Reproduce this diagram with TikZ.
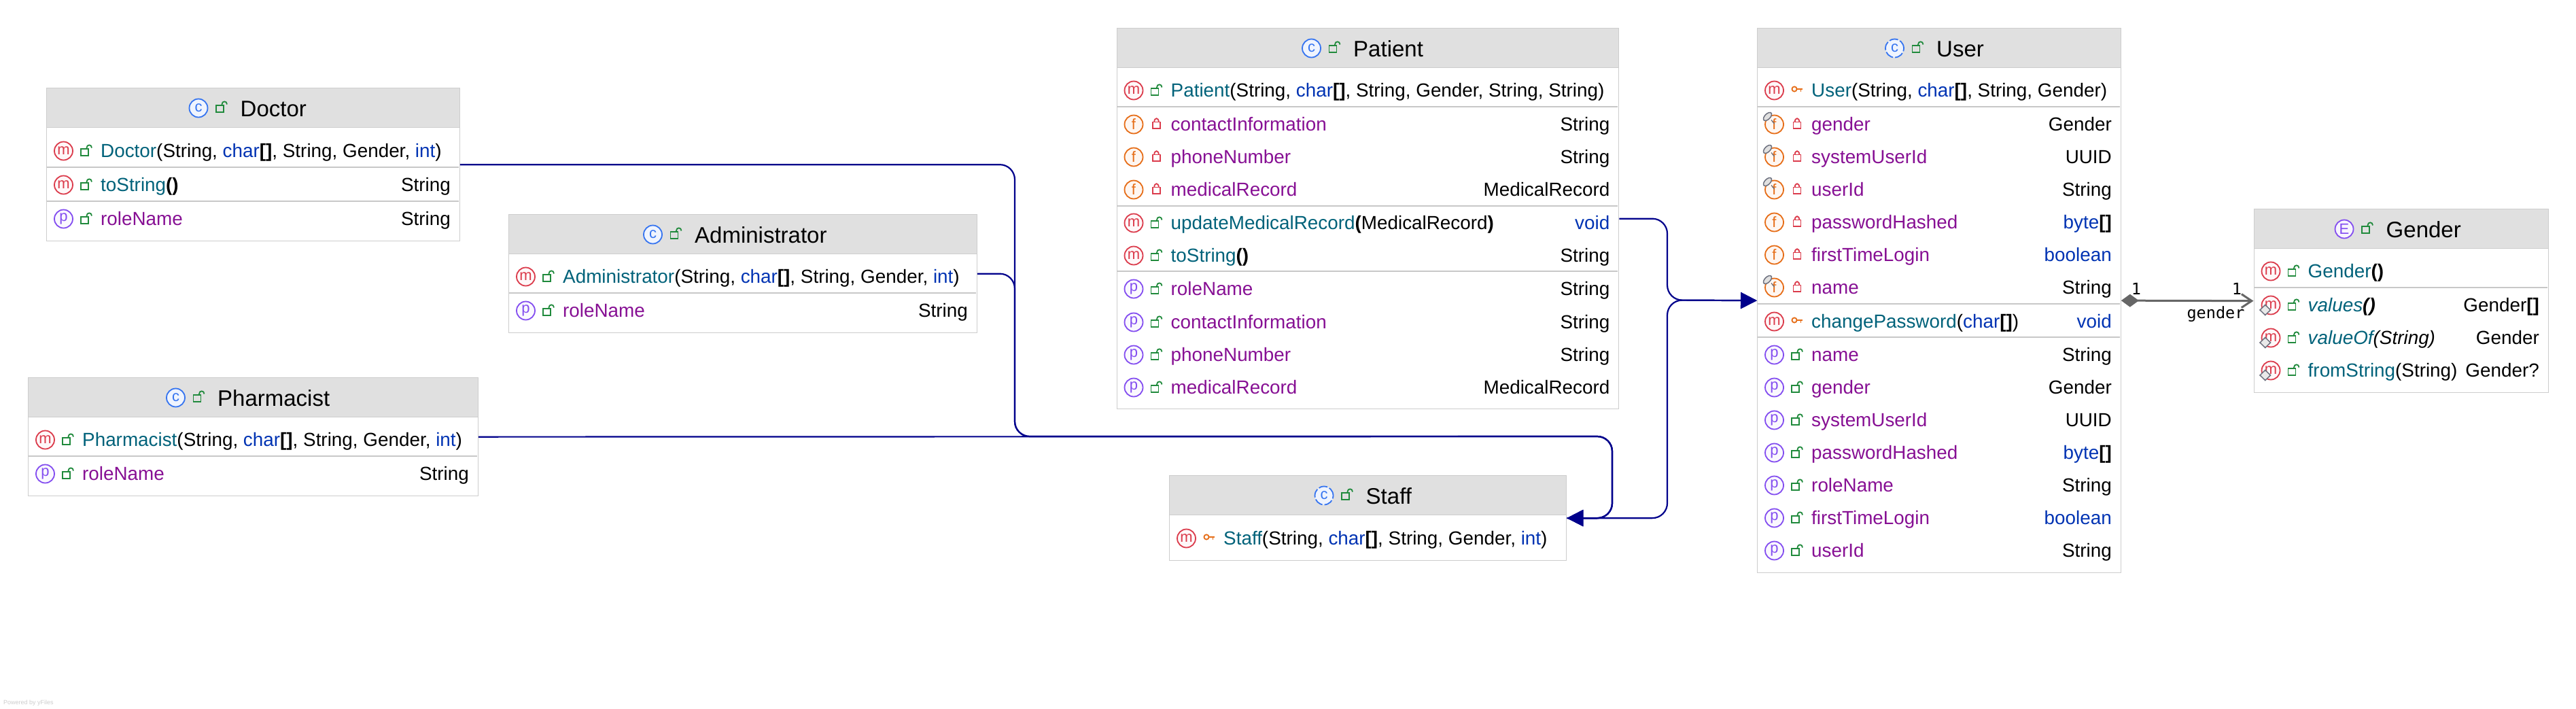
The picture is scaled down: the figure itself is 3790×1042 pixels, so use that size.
\documentclass[tikz,border=0pt]{standalone}
\usepackage{fontspec}
\usepackage{xcolor}
\usepackage{tikz}
\usetikzlibrary{arrows.meta}
\setmainfont{Liberation Sans}
\newfontfamily\tagfont{DejaVu Sans Mono}

\definecolor{headgray}{HTML}{E0E0E0}
\definecolor{edgegray}{HTML}{CDCDCD}
\definecolor{sepgray}{HTML}{C8C8C8}
\definecolor{navyline}{HTML}{00008B}
\definecolor{hasgray}{HTML}{666666}
\definecolor{methodteal}{HTML}{00627A}
\definecolor{fieldpurple}{HTML}{871094}
\definecolor{keywordblue}{HTML}{0033B3}
\definecolor{iconred}{HTML}{DB3B4B}
\definecolor{iconorange}{HTML}{E66D17}
\definecolor{iconpurple}{HTML}{834DF0}
\definecolor{iconblue}{HTML}{3574F0}
\definecolor{lockgreen}{HTML}{208A3C}
\definecolor{markgray}{HTML}{6C707E}

\tikzset{
  classbody/.style={draw=edgegray,fill=white,line width=1.3pt,inner sep=0pt,anchor=north west},
  classhead/.style={draw=edgegray,fill=headgray,line width=1.3pt,inner sep=0pt,anchor=north west},
  rowsep/.style={draw=sepgray,line width=2.6pt},
  icon/.style={circle,draw,line width=1.8pt,minimum size=27pt,inner sep=0pt,font=\fontsize{22}{22}\selectfont},
  iconm/.style={icon,draw=iconred,fill=iconred!4,text=iconred,node contents={m}},
  iconf/.style={icon,draw=iconorange,fill=iconorange!6,text=iconorange,node contents={f}},
  iconp/.style={icon,draw=iconpurple,fill=iconpurple!4,text=iconpurple,node contents={p}},
  iconc/.style={icon,draw=iconblue,fill=iconblue!8,text=iconblue,node contents={c}},
  icona/.style={iconc,dash pattern=on 13pt off 3pt},
  icone/.style={icon,draw=iconpurple,fill=iconpurple!6,text=iconpurple,node contents={E}},
  rowtext/.style={font=\fontsize{27.85}{30}\selectfont,inner sep=0pt,anchor=base west},
  typetext/.style={rowtext,anchor=base east},
  titletext/.style={font=\fontsize{33}{36}\selectfont,inner sep=0pt,anchor=base west},
  tagtext/.style={font=\tagfont\fontsize{23.5}{25}\selectfont,inner sep=0pt},
  extendsline/.style={draw=navyline,line width=2.2pt,rounded corners=22pt,-{Triangle[length=24pt,width=24pt]}},
  hasline/.style={draw=hasgray,line width=3pt,{Diamond[length=26pt,width=19pt]}-{Straight Barb[length=15pt,width=20pt]}},
}

\newcommand{\mth}[1]{\textcolor{methodteal}{#1}}
\newcommand{\fld}[1]{\textcolor{fieldpurple}{#1}}
\newcommand{\kw}[1]{\textcolor{keywordblue}{#1}}
\newcommand{\brk}{\textbf{[]}}

% little marks beside a member
\newcommand{\openlock}[2]{
  \begin{scope}[shift={(#1,#2)}]
    \draw[lockgreen,line width=1.8pt] (-8,-2.7) rectangle (3,7.3);
    \draw[lockgreen,line width=1.8pt] (0.5,-2.7) -- (0.5,-4.5) .. controls (0.5,-10) and (8,-10) .. (8,-4.5);
  \end{scope}
}
\newcommand{\closedlock}[2]{
  \begin{scope}[shift={(#1,#2)}]
    \draw[iconred,line width=1.8pt] (-5.5,-3.5) rectangle (5.5,6.3);
    \draw[iconred,line width=1.8pt] (-3.3,-3.5) .. controls (-3.3,-10.5) and (3.3,-10.5) .. (3.3,-3.5);
  \end{scope}
}
\newcommand{\keymark}[2]{
  \begin{scope}[shift={(#1,#2)}]
    \draw[iconorange,line width=1.8pt] (-4,-2) circle (3.6);
    \draw[iconorange,line width=1.8pt] (-0.4,-2) -- (8,-2) (5.5,-2) -- (5.5,2);
  \end{scope}
}
\newcommand{\viewmark}[2]{
  \draw[markgray,line width=1.3pt] (#1-4.5,#2-6.5) -- (#1,#2-1);
  \draw[markgray,fill=headgray,line width=1.5pt,rotate around={45:(#1-10,#2-11.5)}] (#1-10,#2-11.5) ellipse (7.5 and 4);
}
\newcommand{\staticmark}[2]{
  \draw[markgray,fill=headgray!70,line width=1.5pt] (#1-16,#2+7) -- (#1-8.3,#2-0.5) -- (#1-0.5,#2+7) -- (#1-8.3,#2+14.5) -- cycle;
}

% id, left, top, width, height, icon style, icon x, title
\newcommand{\classbox}[8]{
  \node[classbody,minimum width=#4pt,minimum height=#5pt] (#1) at (#2,#3) {};
  \node[classhead,minimum width=#4pt,minimum height=58pt] (#1head) at (#2,#3) {};
  \node (#1icon) at (#7,#3+30) [#6];
  \openlock{#7+34}{#3+29}
  \node[titletext] (#1title) at (#7+61.5,#3+42) {#8};
}
% id, left, right, y, icon style, lock macro, label, type
\newcommand{\memberrow}[8]{
  \node (#1icon) at (#2+25.5,#4) [#5];
  #6{#2+59}{#4}
  \node[rowtext] (#1) at (#2+80,#4+9.5) {#7};
  \node[typetext] (#1type) at (#3-12.5,#4+9.5) {#8};
}

\begin{document}
\begin{tikzpicture}[x=1pt,y=-1pt]
\useasboundingbox (0,0) rectangle (3790,1042);

% Doctor
\classbox{doctor}{68}{129}{607.5}{225}{iconc}{292}{Doctor}
\memberrow{doctorctor}{68}{675.5}{222}{iconm}{\openlock}{\mth{Doctor}(String, \kw{char}\brk, String, Gender, \kw{int})}{}
\draw[rowsep] (69,246) -- (675,246);
\memberrow{doctorstr}{68}{675.5}{272}{iconm}{\openlock}{\mth{toString}\textbf{()}}{String}
\draw[rowsep] (69,296) -- (675,296);
\memberrow{doctorrole}{68}{675.5}{322}{iconp}{\openlock}{\fld{roleName}}{String}

% Administrator
\classbox{admin}{748}{315}{688.5}{174}{iconc}{960.5}{Administrator}
\memberrow{adminctor}{748}{1436.5}{407}{iconm}{\openlock}{\mth{Administrator}(String, \kw{char}\brk, String, Gender, \kw{int})}{}
\draw[rowsep] (749,431) -- (1436,431);
\memberrow{adminrole}{748}{1436.5}{457}{iconp}{\openlock}{\fld{roleName}}{String}

% Pharmacist
\classbox{pharmacist}{41}{555}{661.5}{174}{iconc}{258.5}{Pharmacist}
\memberrow{pharmacistctor}{41}{702.5}{647}{iconm}{\openlock}{\mth{Pharmacist}(String, \kw{char}\brk, String, Gender, \kw{int})}{}
\draw[rowsep] (42,671) -- (702,671);
\memberrow{pharmacistrole}{41}{702.5}{697}{iconp}{\openlock}{\fld{roleName}}{String}

% Patient
\classbox{patient}{1642.5}{41}{738.5}{560}{iconc}{1929.5}{Patient}
\memberrow{patientctor}{1642.5}{2381}{133}{iconm}{\openlock}{\mth{Patient}(String, \kw{char}\brk, String, Gender, String, String)}{}
\draw[rowsep] (1643,157) -- (2380,157);
\memberrow{patientcontactf}{1642.5}{2381}{183}{iconf}{\closedlock}{\fld{contactInformation}}{String}
\memberrow{patientphonef}{1642.5}{2381}{231}{iconf}{\closedlock}{\fld{phoneNumber}}{String}
\memberrow{patientrecordf}{1642.5}{2381}{279}{iconf}{\closedlock}{\fld{medicalRecord}}{MedicalRecord}
\draw[rowsep] (1643,303) -- (2380,303);
\memberrow{patientupdate}{1642.5}{2381}{328}{iconm}{\openlock}{\mth{updateMedicalRecord}\textbf{(}MedicalRecord\textbf{)}}{\kw{void}}
\memberrow{patientstr}{1642.5}{2381}{376}{iconm}{\openlock}{\mth{toString}\textbf{()}}{String}
\draw[rowsep] (1643,399) -- (2380,399);
\memberrow{patientrole}{1642.5}{2381}{425}{iconp}{\openlock}{\fld{roleName}}{String}
\memberrow{patientcontactp}{1642.5}{2381}{474}{iconp}{\openlock}{\fld{contactInformation}}{String}
\memberrow{patientphonep}{1642.5}{2381}{522}{iconp}{\openlock}{\fld{phoneNumber}}{String}
\memberrow{patientrecordp}{1642.5}{2381}{570}{iconp}{\openlock}{\fld{medicalRecord}}{MedicalRecord}

% Staff
\classbox{staff}{1720}{699}{584}{125}{icona}{1948}{Staff}
\memberrow{staffctor}{1720}{2304}{792}{iconm}{\keymark}{\mth{Staff}(String, \kw{char}\brk, String, Gender, \kw{int})}{}

% User
\classbox{user}{2585}{41}{534.5}{801}{icona}{2787.5}{User}
\memberrow{userctor}{2585}{3119.5}{133}{iconm}{\keymark}{\mth{User}(String, \kw{char}\brk, String, Gender)}{}
\draw[rowsep] (2586,157) -- (3119,157);
\memberrow{usergenderf}{2585}{3119.5}{183}{iconf}{\closedlock}{\fld{gender}}{Gender}
\viewmark{2610.5}{183}
\memberrow{usersystemf}{2585}{3119.5}{231}{iconf}{\closedlock}{\fld{systemUserId}}{UUID}
\viewmark{2610.5}{231}
\memberrow{useridf}{2585}{3119.5}{279}{iconf}{\closedlock}{\fld{userId}}{String}
\viewmark{2610.5}{279}
\memberrow{userpasswordf}{2585}{3119.5}{327}{iconf}{\closedlock}{\fld{passwordHashed}}{\kw{byte}\brk}
\memberrow{userfirstf}{2585}{3119.5}{375}{iconf}{\closedlock}{\fld{firstTimeLogin}}{\kw{boolean}}
\memberrow{usernamef}{2585}{3119.5}{423}{iconf}{\closedlock}{\fld{name}}{String}
\viewmark{2610.5}{423}
\draw[rowsep] (2586,447) -- (3119,447);
\memberrow{userchange}{2585}{3119.5}{473}{iconm}{\keymark}{\mth{changePassword}(\kw{char}\brk)}{\kw{void}}
\draw[rowsep] (2586,496) -- (3119,496);
\memberrow{usernamep}{2585}{3119.5}{522}{iconp}{\openlock}{\fld{name}}{String}
\memberrow{usergenderp}{2585}{3119.5}{570}{iconp}{\openlock}{\fld{gender}}{Gender}
\memberrow{usersystemp}{2585}{3119.5}{618}{iconp}{\openlock}{\fld{systemUserId}}{UUID}
\memberrow{userpasswordp}{2585}{3119.5}{666}{iconp}{\openlock}{\fld{passwordHashed}}{\kw{byte}\brk}
\memberrow{userrole}{2585}{3119.5}{714}{iconp}{\openlock}{\fld{roleName}}{String}
\memberrow{userfirstp}{2585}{3119.5}{762}{iconp}{\openlock}{\fld{firstTimeLogin}}{\kw{boolean}}
\memberrow{useridp}{2585}{3119.5}{810}{iconp}{\openlock}{\fld{userId}}{String}

% Gender
\classbox{gender}{3315.5}{307}{433}{270}{icone}{3449}{Gender}
\memberrow{genderctor}{3315.5}{3748.5}{399}{iconm}{\openlock}{\mth{Gender}\textbf{()}}{}
\draw[rowsep] (3316,423) -- (3748,423);
\memberrow{gendervalues}{3315.5}{3748.5}{449}{iconm}{\openlock}{\mth{\itshape values}\textbf{\itshape ()}}{Gender\brk}
\staticmark{3341}{449}
\memberrow{gendervalueof}{3315.5}{3748.5}{497}{iconm}{\openlock}{\mth{\itshape valueOf}{\itshape (String)}}{Gender}
\staticmark{3341}{497}
\memberrow{genderfrom}{3315.5}{3748.5}{545}{iconm}{\openlock}{\mth{fromString}(String)}{Gender?}
\staticmark{3341}{545}

% connectors
\coordinate (busturn) at (1493,642);
\coordinate (busend) at (2372,642);
\coordinate (userturn) at (2453,441.5);
\draw[extendsline] (doctor.east) -| (busturn) -- (busend) |- (staff.east);
\draw[extendsline] (admin.east) -| (busturn) -- (busend) |- (staff.east);
\draw[extendsline] (pharmacist.east) -- (busend) |- (staff.east);
\draw[extendsline] (patient.east) -| (userturn) -- (user.west);
\draw[extendsline] (staff.east) -| (userturn) -- (user.west);
\draw[hasline] (user.east) -- (gender.west);
\node[tagtext] (hasfrom) at (3143,425) {1};
\node[tagtext] (hasto) at (3291,425) {1};
\node[tagtext] (hastag) at (3260,462) {gender};

\node[font=\fontsize{9}{10}\selectfont,text=gray!40,inner sep=0pt,anchor=west] (poweredby) at (5,1034) {Powered by yFiles};
\end{tikzpicture}
\end{document}
